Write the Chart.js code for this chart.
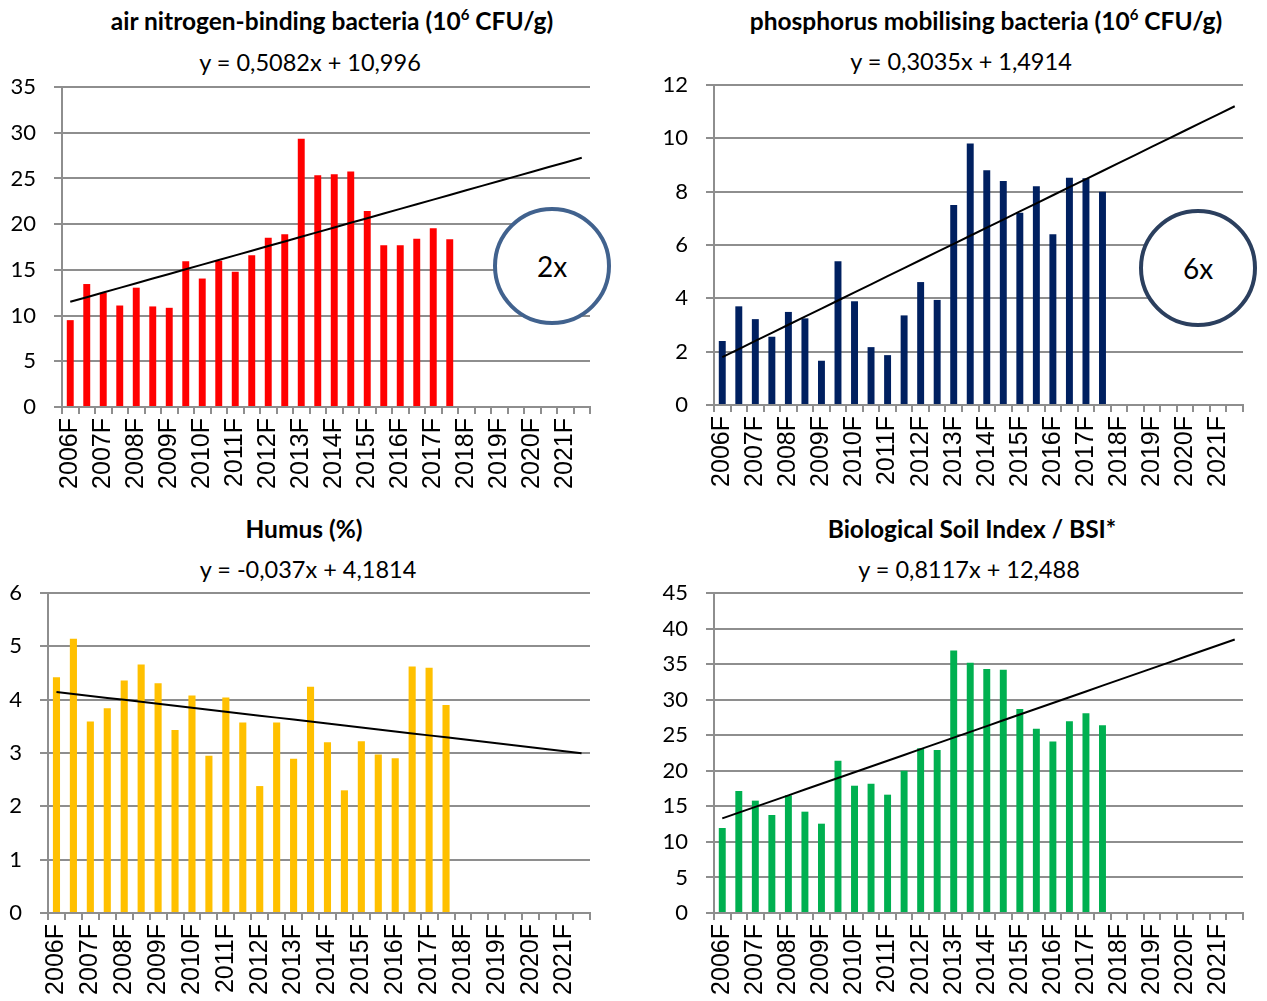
<!DOCTYPE html>
<html>
<head>
<meta charset="utf-8">
<script src="https://cdn.jsdelivr.net/npm/chart.js@4"></script>
<style>
  body { margin: 0; background: #fff; width: 1267px; height: 1001px; position: relative; overflow: hidden; font-family: Lato, "Open Sans", sans-serif; color: #000; }
  .box { position: absolute; }
  .title { position: absolute; transform: translateX(-50%); white-space: nowrap; font-weight: bold; font-size: 24.5px; line-height: 24px; }
  .title sup { font-size: 15px; line-height: 0; position: relative; top: -1px; }
  .eq { position: absolute; transform: translateX(-50%); white-space: nowrap; font-size: 23.5px; line-height: 24px; }
  .ring { position: absolute; width: 118px; height: 118px; border-radius: 50%; box-sizing: border-box; border: 4px solid #41628e; display: flex; align-items: center; justify-content: center; font-size: 28px; background: #fff; }
</style>
</head>
<body>

<div class="title" style="left:332px; top:9px">air nitrogen-binding bacteria (10<sup>6</sup> CFU/g)</div>
<div class="eq" style="left:310px; top:50px">y = 0,5082x + 10,996</div>
<div class="title" style="left:986px; top:9px">phosphorus mobilising bacteria (10<sup>6</sup> CFU/g)</div>
<div class="eq" style="left:961px; top:49px">y = 0,3035x + 1,4914</div>
<div class="title" style="left:304px; top:517px">Humus (%)</div>
<div class="eq" style="left:308px; top:557px">y = -0,037x + 4,1814</div>
<div class="title" style="left:972px; top:517px">Biological Soil Index / BSI*</div>
<div class="eq" style="left:969px; top:557px">y = 0,8117x + 12,488</div>

<div class="box" style="left:0; top:77px; width:600px; height:424px"><canvas id="cNitrogen"></canvas></div>
<div class="box" style="left:650px; top:75px; width:603px; height:424px"><canvas id="cPhosphorus"></canvas></div>
<div class="box" style="left:0; top:583px; width:600px; height:418px"><canvas id="cHumus"></canvas></div>
<div class="box" style="left:650px; top:583px; width:603px; height:418px"><canvas id="cBsi"></canvas></div>

<div class="ring" style="left:493px; top:207px">2x</div>
<div class="ring" style="left:1139px; top:209px; border-color:#2b3f5e">6x</div>

<script>
// ===== DATOS =====
const categories = [
  '2006F', '', '2007F', '', '2008F', '', '2009F', '', '2010F', '', '2011F', '',
  '2012F', '', '2013F', '', '2014F', '', '2015F', '', '2016F', '', '2017F', '',
  '2018F', '', '2019F', '', '2020F', '', '2021F', ''
];

const nitrogen = [9.5, 13.45, 12.5, 11.1, 13.05, 11.0, 10.85, 15.95, 14.05, 16.0, 14.8, 16.6,
  18.5, 18.9, 29.35, 25.35, 25.45, 25.75, 21.45, 17.7, 17.7, 18.4, 19.55, 18.35];
const phosphorus = [2.4, 3.7, 3.22, 2.56, 3.49, 3.25, 1.66, 5.39, 3.89, 2.17, 1.87, 3.36,
  4.61, 3.94, 7.5, 9.81, 8.8, 8.4, 7.21, 8.2, 6.4, 8.52, 8.5, 8.0];
const humus = [4.42, 5.14, 3.59, 3.84, 4.36, 4.66, 4.31, 3.43, 4.08, 2.95, 4.04, 3.57,
  2.38, 3.57, 2.89, 4.24, 3.2, 2.3, 3.22, 2.97, 2.9, 4.62, 4.6, 3.9];
const bsi = [11.95, 17.16, 15.8, 13.78, 16.55, 14.25, 12.56, 21.42, 17.9, 18.19, 16.64, 20.0,
  23.16, 22.92, 36.9, 35.2, 34.3, 34.2, 28.7, 25.9, 24.1, 26.95, 28.1, 26.4];

// trend lines: [slope, intercept] as printed on each chart
const nitrogenTrend = [0.5082, 10.996];
const phosphorusTrend = [0.3035, 1.4914];
const humusTrend = [-0.037, 4.1814];
const bsiTrend = [0.8117, 12.488];

const gridColor = '#8e8e8e';

function buildChart(canvasId, values, color, trend, yMax, yStep, yAxisWidth, xAxisHeight) {
  const trendData = categories.map((c, i) => trend[0] * (i + 1) + trend[1]);
  return new Chart(document.getElementById(canvasId), {
    data: {
      labels: categories,
      datasets: [
        { type: 'line', data: trendData, borderColor: '#000', borderWidth: 2, pointRadius: 0, tension: 0, order: 0 },
        { type: 'bar', data: values, backgroundColor: color, barPercentage: 0.42, categoryPercentage: 1, order: 1 }
      ]
    },
    options: {
      responsive: true,
      maintainAspectRatio: false,
      animation: false,
      layout: { padding: { top: 10, right: 10, left: 0, bottom: 0 } },
      plugins: { legend: { display: false }, tooltip: { enabled: false } },
      scales: {
        x: {
          offset: true,
          grid: { offset: true, drawOnChartArea: false, color: gridColor, lineWidth: 2, tickLength: 7 },
          border: { color: gridColor, width: 2 },
          ticks: { autoSkip: false, minRotation: 90, maxRotation: 90, padding: 4, color: '#000',
                   font: { family: 'Liberation Sans', size: 25 } },
          afterFit: s => { s.height = xAxisHeight; s.paddingLeft = 0; s.paddingRight = 0; }
        },
        y: {
          min: 0, max: yMax,
          ticks: { stepSize: yStep, padding: 18, color: '#000', font: { family: 'Lato', size: 22 } },
          grid: { color: gridColor, lineWidth: 2, tickLength: 8 },
          border: { color: gridColor, width: 2 },
          afterFit: s => { s.width = yAxisWidth; s.paddingTop = 0; s.paddingBottom = 0; }
        }
      }
    }
  });
}

buildChart('cNitrogen', nitrogen, '#ff0000', nitrogenTrend, 35, 5, 62, 94);
buildChart('cPhosphorus', phosphorus, '#002060', phosphorusTrend, 12, 2, 64, 94);
buildChart('cHumus', humus, '#ffc000', humusTrend, 6, 1, 48, 88);
buildChart('cBsi', bsi, '#00b050', bsiTrend, 45, 5, 64, 88);
</script>
</body>
</html>
